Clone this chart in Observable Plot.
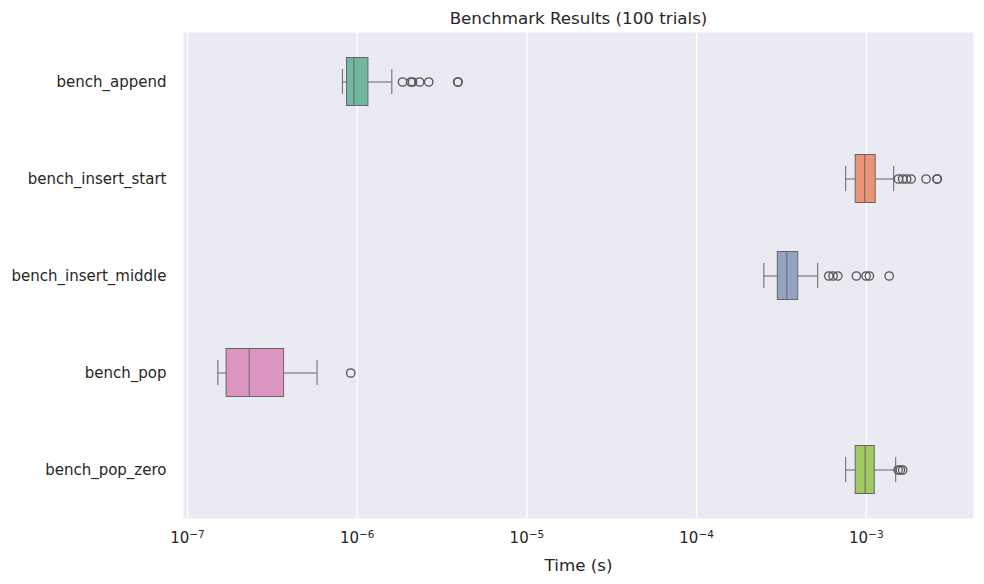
<!DOCTYPE html>
<html>
<head>
<meta charset="utf-8">
<script src="https://cdn.jsdelivr.net/npm/d3@7"></script>
<script src="https://cdn.jsdelivr.net/npm/@observablehq/plot@0.6"></script>
<style>
  html, body { margin: 0; padding: 0; background: #fff; }
  #chart { width: 984px; height: 584px; }
</style>
</head>
<body>
<div id="chart"></div>
<script>
const title = "Benchmark Results (100 trials)";
const xLabel = "Time (s)";
const benches = ["bench_append", "bench_insert_start", "bench_insert_middle", "bench_pop", "bench_pop_zero"];
const colors = ["#71b7a1", "#e99575", "#95a3c3", "#dc95c1", "#a2c864"];
const whiskerLow  = [8.18e-7, 7.56e-4, 2.49e-4, 1.51e-7, 7.56e-4];
const q1          = [8.71e-7, 8.66e-4, 3.01e-4, 1.70e-7, 8.66e-4];
const median      = [9.57e-7, 9.79e-4, 3.40e-4, 2.31e-7, 9.84e-4];
const q3          = [1.164e-6, 1.136e-3, 3.97e-4, 3.71e-7, 1.121e-3];
const whiskerHigh = [1.60e-6, 1.45e-3, 5.17e-4, 5.80e-7, 1.49e-3];
const outliers = [
  [1.85e-6, 2.07e-6, 2.12e-6, 2.33e-6, 2.64e-6, 3.91e-6, 3.93e-6],
  [1.546e-3, 1.638e-3, 1.73e-3, 1.836e-3, 2.25e-3, 2.61e-3, 2.62e-3],
  [6.01e-4, 6.37e-4, 6.79e-4, 8.74e-4, 9.97e-4, 1.043e-3, 1.364e-3],
  [9.16e-7],
  [1.539e-3, 1.588e-3, 1.638e-3]
];
const xTicks = [1e-7, 1e-6, 1e-5, 1e-4, 1e-3];
const xTickExponents = ["−7", "−6", "−5", "−4", "−3"];

const stats = benches.map((name, i) => ({
  name, color: colors[i], lo: whiskerLow[i], q1: q1[i], med: median[i], q3: q3[i], hi: whiskerHigh[i]
}));
const fliers = benches.flatMap((name, i) => outliers[i].map(v => ({name, v})));

const lineColor = "#666666";
const boxInset = 24.5;
const capInset = 36;

const chart = Plot.plot({
  width: 984,
  height: 584,
  marginLeft: 183,
  marginRight: 11,
  marginTop: 32,
  marginBottom: 66,
  style: {fontFamily: "DejaVu Sans, sans-serif", fontSize: "15px", color: "#262626", background: "#ffffff"},
  x: {type: "log", domain: [Math.pow(10, -7.0236), Math.pow(10, -2.3683)]},
  y: {type: "band", domain: benches, padding: 0},
  marks: [
    Plot.frame({fill: "#eaeaf2", stroke: null}),
    Plot.ruleX(xTicks, {stroke: "white", strokeWidth: 1.3}),
    Plot.axisX(xTicks, {tickSize: 0, tickPadding: 14, tickFormat: d => "10" + xTickExponents[xTicks.indexOf(d)], label: null, fontSize: 15}),
    Plot.axisY({tickSize: 0, tickPadding: 17, label: null, fontSize: 15}),
    Plot.ruleY(stats, {y: "name", x1: "lo", x2: "q1", stroke: lineColor, strokeWidth: 1}),
    Plot.ruleY(stats, {y: "name", x1: "q3", x2: "hi", stroke: lineColor, strokeWidth: 1}),
    Plot.tickX(stats, {y: "name", x: "lo", stroke: lineColor, strokeWidth: 1, insetTop: capInset, insetBottom: capInset}),
    Plot.tickX(stats, {y: "name", x: "hi", stroke: lineColor, strokeWidth: 1, insetTop: capInset, insetBottom: capInset}),
    Plot.barX(stats, {y: "name", x1: "q1", x2: "q3", fill: d => d.color, stroke: lineColor, strokeWidth: 1, insetTop: boxInset, insetBottom: boxInset}),
    Plot.tickX(stats, {y: "name", x: "med", stroke: lineColor, strokeWidth: 1, insetTop: boxInset, insetBottom: boxInset}),
    Plot.dot(fliers, {y: "name", x: "v", r: 4.2, stroke: "#555555", strokeWidth: 1.3, fill: "none"}),
    Plot.text([title], {text: d => d, frameAnchor: "top", dy: -14, fontSize: 16.7, fill: "#262626", lineAnchor: "middle"}),
    Plot.text([xLabel], {text: d => d, frameAnchor: "bottom", dy: 47, fontSize: 16.7, fill: "#262626", lineAnchor: "middle"})
  ]
});
document.getElementById("chart").appendChild(chart);

// render exponents as raised superscripts like matplotlib mathtext
d3.select(chart).selectAll('g[aria-label="x-axis tick label"] text').each(function() {
  const t = this.textContent;
  if (!t.startsWith("10")) return;
  const exp = t.slice(2);
  const sel = d3.select(this);
  sel.text("10");
  sel.append("tspan").attr("dy", "-0.5em").attr("font-size", "10.5px").text(exp);
});
</script>
</body>
</html>
